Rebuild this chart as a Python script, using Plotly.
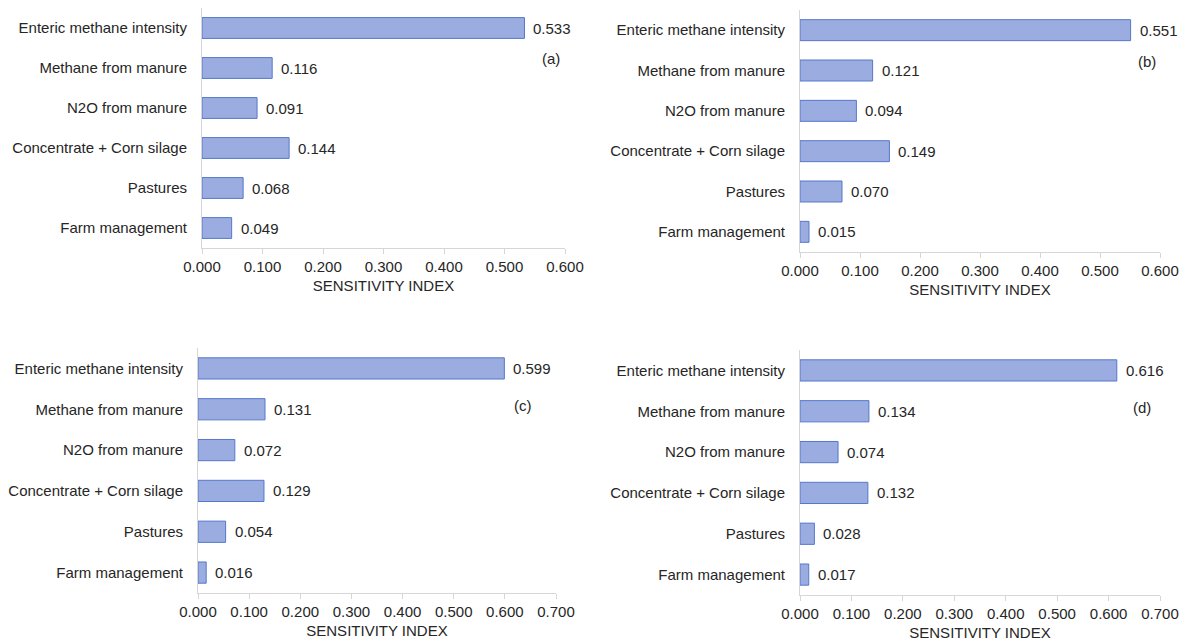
import plotly.graph_objects as go

categories = ["Enteric methane intensity", "Methane from manure", "N2O from manure",
              "Concentrate + Corn silage", "Pastures", "Farm management"]
values_a = [0.533, 0.116, 0.091, 0.144, 0.068, 0.049]
values_b = [0.551, 0.121, 0.094, 0.149, 0.070, 0.015]
values_c = [0.599, 0.131, 0.072, 0.129, 0.054, 0.016]
values_d = [0.616, 0.134, 0.074, 0.132, 0.028, 0.017]
panel_labels = ["(a)", "(b)", "(c)", "(d)"]
x_max = [0.6, 0.6, 0.7, 0.7]
x_title = "SENSITIVITY INDEX"

W, H = 1194, 640
OFF = 8  # page body margin offset
# pixel boxes: (x0, x1, ytop, ybottom)
boxes = [(202, 565, 8, 248), (800, 1160, 10, 252), (198, 556, 348, 593), (800, 1160, 350, 595)]
label_pos = [(551, 58), (1147, 62), (523, 405), (1142, 407)]

FONT = "Liberation Sans, Arial, sans-serif"
TXT = "#262626"
FS = 15
fig = go.Figure()
all_vals = [values_a, values_b, values_c, values_d]
layout = {}
annotations = []


def px_x(p):
    return min(1.0, max(0.0, (p - OFF) / W))


def px_y(p):
    return min(1.0, max(0.0, 1 - (p - OFF) / H))


for i, vals in enumerate(all_vals):
    n = "" if i == 0 else str(i + 1)
    xa, ya = "x" + n, "y" + n
    fig.add_trace(go.Bar(
        x=vals, y=categories, orientation="h", xaxis=xa, yaxis=ya,
        width=0.52,
        marker=dict(color="#9badE0", line=dict(color="#5577cc", width=1)),
        showlegend=False, hoverinfo="x+y",
    ))
    x0, x1, yt, yb = boxes[i]
    ticks = [round(k * 0.1, 1) for k in range(int(round(x_max[i] * 10)) + 1)]
    layout["xaxis" + n] = dict(
        domain=[px_x(x0), px_x(x1)], anchor=ya, range=[0, x_max[i]],
        tickvals=ticks, ticktext=[f"{t:.3f}" for t in ticks],
        showgrid=False, zeroline=False, showline=True, linecolor="#d6d6d6", linewidth=1,
        ticks="outside", ticklen=5, tickcolor="#d6d6d6",
        tickfont=dict(family=FONT, size=FS, color=TXT),
        title=dict(text=x_title, font=dict(family=FONT, size=FS, color=TXT), standoff=6),
        automargin=False, fixedrange=True,
    )
    layout["yaxis" + n] = dict(
        domain=[px_y(yb), px_y(yt)], anchor=xa,
        categoryorder="array", categoryarray=categories, autorange="reversed",
        showgrid=False, zeroline=False, showline=True, linecolor="#d6d6d6", linewidth=1,
        ticks="", ticklabelstandoff=11,
        tickfont=dict(family=FONT, size=FS, color=TXT),
        automargin=False, fixedrange=True,
    )
    for c, v in zip(categories, vals):
        annotations.append(dict(
            x=v, y=c, xref=xa, yref=ya, text=f"{v:.3f}", showarrow=False,
            xanchor="left", xshift=7, font=dict(family=FONT, size=FS, color=TXT)))
    lx, ly = label_pos[i]
    annotations.append(dict(
        x=px_x(lx), y=px_y(ly), xref="paper", yref="paper", text=panel_labels[i],
        showarrow=False, xanchor="center", yanchor="middle",
        font=dict(family=FONT, size=FS, color=TXT)))

fig.update_layout(
    width=W, height=H, margin=dict(l=0, r=0, t=0, b=0),
    paper_bgcolor="white", plot_bgcolor="white",
    annotations=annotations, **layout)
fig.write_html("out.html")
